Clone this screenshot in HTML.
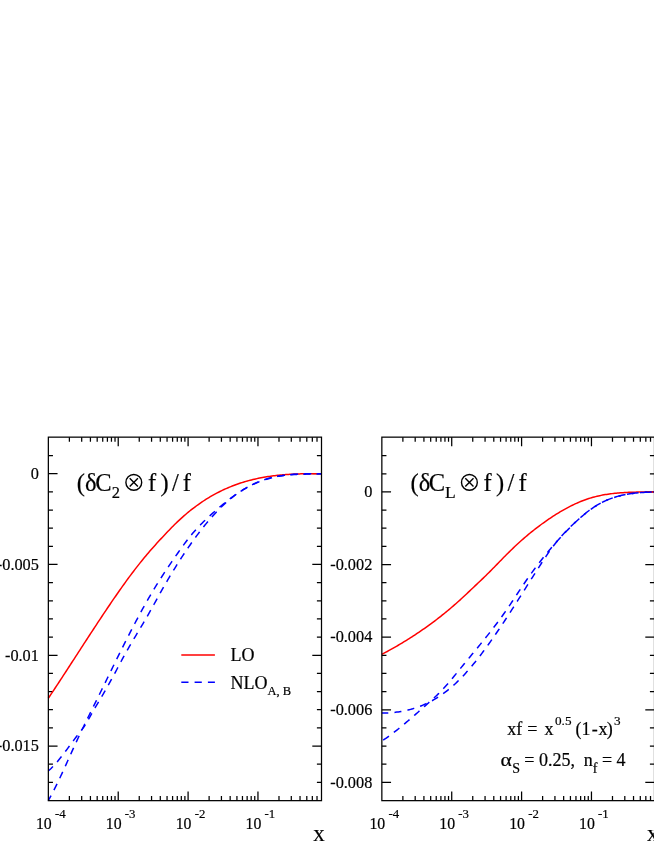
<!DOCTYPE html>
<html><head><meta charset="utf-8"><title>chart</title>
<style>
html,body{margin:0;padding:0;background:#fff;}
body{width:654px;height:846px;overflow:hidden;font-family:"Liberation Serif",serif;}
svg{display:block;font-family:"Liberation Serif",serif;}
text{fill:#000;}
</style></head><body>
<svg width="654" height="846" viewBox="0 0 654 846">
<rect width="654" height="846" fill="#fff"/>
<path d="M48.35 455.54h4.6M321.5 455.54h-4.6M48.35 473.7h9.2M321.5 473.7h-9.2M48.35 491.86h4.6M321.5 491.86h-4.6M48.35 510.01h4.6M321.5 510.01h-4.6M48.35 528.16h4.6M321.5 528.16h-4.6M48.35 546.32h4.6M321.5 546.32h-4.6M48.35 564.48h9.2M321.5 564.48h-9.2M48.35 582.63h4.6M321.5 582.63h-4.6M48.35 600.78h4.6M321.5 600.78h-4.6M48.35 618.94h4.6M321.5 618.94h-4.6M48.35 637.1h4.6M321.5 637.1h-4.6M48.35 655.25h9.2M321.5 655.25h-9.2M48.35 673.4h4.6M321.5 673.4h-4.6M48.35 691.56h4.6M321.5 691.56h-4.6M48.35 709.72h4.6M321.5 709.72h-4.6M48.35 727.87h4.6M321.5 727.87h-4.6M48.35 746.03h9.2M321.5 746.03h-9.2M48.35 764.18h4.6M321.5 764.18h-4.6M48.35 782.34h4.6M321.5 782.34h-4.6M69.38 800.65v-4.6M69.38 437.15v4.6M81.69 800.65v-4.6M81.69 437.15v4.6M90.42 800.65v-4.6M90.42 437.15v4.6M97.19 800.65v-4.6M97.19 437.15v4.6M102.72 800.65v-4.6M102.72 437.15v4.6M107.4 800.65v-4.6M107.4 437.15v4.6M111.45 800.65v-4.6M111.45 437.15v4.6M115.02 800.65v-4.6M115.02 437.15v4.6M118.22 800.65v-9.2M118.22 437.15v9.2M139.25 800.65v-4.6M139.25 437.15v4.6M151.56 800.65v-4.6M151.56 437.15v4.6M160.29 800.65v-4.6M160.29 437.15v4.6M167.06 800.65v-4.6M167.06 437.15v4.6M172.59 800.65v-4.6M172.59 437.15v4.6M177.27 800.65v-4.6M177.27 437.15v4.6M181.32 800.65v-4.6M181.32 437.15v4.6M184.89 800.65v-4.6M184.89 437.15v4.6M188.09 800.65v-9.2M188.09 437.15v9.2M209.12 800.65v-4.6M209.12 437.15v4.6M221.43 800.65v-4.6M221.43 437.15v4.6M230.16 800.65v-4.6M230.16 437.15v4.6M236.93 800.65v-4.6M236.93 437.15v4.6M242.46 800.65v-4.6M242.46 437.15v4.6M247.14 800.65v-4.6M247.14 437.15v4.6M251.19 800.65v-4.6M251.19 437.15v4.6M254.76 800.65v-4.6M254.76 437.15v4.6M257.96 800.65v-9.2M257.96 437.15v9.2M278.99 800.65v-4.6M278.99 437.15v4.6M291.3 800.65v-4.6M291.3 437.15v4.6M300.03 800.65v-4.6M300.03 437.15v4.6M306.8 800.65v-4.6M306.8 437.15v4.6M312.33 800.65v-4.6M312.33 437.15v4.6M317.01 800.65v-4.6M317.01 437.15v4.6" stroke="#000" stroke-width="1.25" fill="none"/>
<path d="M381.85 455.59h4.6M654.5 455.59h-4.6M381.85 473.75h4.6M654.5 473.75h-4.6M381.85 491.9h9.2M654.5 491.9h-9.2M381.85 510.05h4.6M654.5 510.05h-4.6M381.85 528.21h4.6M654.5 528.21h-4.6M381.85 546.37h4.6M654.5 546.37h-4.6M381.85 564.52h9.2M654.5 564.52h-9.2M381.85 582.67h4.6M654.5 582.67h-4.6M381.85 600.83h4.6M654.5 600.83h-4.6M381.85 618.99h4.6M654.5 618.99h-4.6M381.85 637.14h9.2M654.5 637.14h-9.2M381.85 655.29h4.6M654.5 655.29h-4.6M381.85 673.45h4.6M654.5 673.45h-4.6M381.85 691.61h4.6M654.5 691.61h-4.6M381.85 709.76h9.2M654.5 709.76h-9.2M381.85 727.91h4.6M654.5 727.91h-4.6M381.85 746.07h4.6M654.5 746.07h-4.6M381.85 764.23h4.6M654.5 764.23h-4.6M381.85 782.38h9.2M654.5 782.38h-9.2M402.88 800.65v-4.6M402.88 437.15v4.6M415.19 800.65v-4.6M415.19 437.15v4.6M423.92 800.65v-4.6M423.92 437.15v4.6M430.69 800.65v-4.6M430.69 437.15v4.6M436.22 800.65v-4.6M436.22 437.15v4.6M440.9 800.65v-4.6M440.9 437.15v4.6M444.95 800.65v-4.6M444.95 437.15v4.6M448.52 800.65v-4.6M448.52 437.15v4.6M451.72 800.65v-9.2M451.72 437.15v9.2M472.75 800.65v-4.6M472.75 437.15v4.6M485.06 800.65v-4.6M485.06 437.15v4.6M493.79 800.65v-4.6M493.79 437.15v4.6M500.56 800.65v-4.6M500.56 437.15v4.6M506.09 800.65v-4.6M506.09 437.15v4.6M510.77 800.65v-4.6M510.77 437.15v4.6M514.82 800.65v-4.6M514.82 437.15v4.6M518.39 800.65v-4.6M518.39 437.15v4.6M521.59 800.65v-9.2M521.59 437.15v9.2M542.62 800.65v-4.6M542.62 437.15v4.6M554.93 800.65v-4.6M554.93 437.15v4.6M563.66 800.65v-4.6M563.66 437.15v4.6M570.43 800.65v-4.6M570.43 437.15v4.6M575.96 800.65v-4.6M575.96 437.15v4.6M580.64 800.65v-4.6M580.64 437.15v4.6M584.69 800.65v-4.6M584.69 437.15v4.6M588.26 800.65v-4.6M588.26 437.15v4.6M591.46 800.65v-9.2M591.46 437.15v9.2M612.49 800.65v-4.6M612.49 437.15v4.6M624.8 800.65v-4.6M624.8 437.15v4.6M633.53 800.65v-4.6M633.53 437.15v4.6M640.3 800.65v-4.6M640.3 437.15v4.6M645.83 800.65v-4.6M645.83 437.15v4.6M650.51 800.65v-4.6M650.51 437.15v4.6" stroke="#000" stroke-width="1.25" fill="none"/>
<path d="M48.3 698.29 L49.67 696.24 L51.05 694.18 L52.42 692.12 L53.79 690.06 L55.16 687.98 L56.54 685.9 L57.91 683.82 L59.28 681.73 L60.66 679.64 L62.03 677.54 L63.4 675.44 L64.77 673.34 L66.15 671.23 L67.52 669.12 L68.89 667.01 L70.27 664.89 L71.64 662.78 L73.01 660.66 L74.38 658.54 L75.76 656.42 L77.13 654.3 L78.5 652.18 L79.88 650.07 L81.25 647.95 L82.62 645.83 L83.99 643.71 L85.37 641.6 L86.74 639.49 L88.11 637.38 L89.49 635.27 L90.86 633.17 L92.23 631.07 L93.6 628.97 L94.98 626.88 L96.35 624.79 L97.72 622.71 L99.1 620.63 L100.47 618.55 L101.84 616.49 L103.21 614.43 L104.59 612.37 L105.96 610.32 L107.33 608.28 L108.71 606.25 L110.08 604.22 L111.45 602.2 L112.82 600.19 L114.2 598.19 L115.57 596.2 L116.94 594.22 L118.32 592.25 L119.69 590.29 L121.06 588.34 L122.43 586.41 L123.81 584.48 L125.18 582.57 L126.55 580.68 L127.93 578.8 L129.3 576.93 L130.67 575.08 L132.04 573.25 L133.42 571.43 L134.79 569.63 L136.16 567.85 L137.54 566.09 L138.91 564.34 L140.28 562.62 L141.65 560.92 L143.03 559.23 L144.4 557.57 L145.77 555.93 L147.15 554.3 L148.52 552.69 L149.89 551.1 L151.26 549.52 L152.64 547.96 L154.01 546.41 L155.38 544.88 L156.76 543.36 L158.13 541.85 L159.5 540.35 L160.87 538.87 L162.25 537.39 L163.62 535.92 L164.99 534.47 L166.37 533.02 L167.74 531.58 L169.11 530.15 L170.48 528.73 L171.86 527.33 L173.23 525.94 L174.6 524.57 L175.98 523.23 L177.35 521.91 L178.72 520.61 L180.09 519.33 L181.47 518.08 L182.84 516.85 L184.21 515.64 L185.59 514.46 L186.96 513.3 L188.33 512.16 L189.71 511.04 L191.08 509.94 L192.45 508.86 L193.82 507.81 L195.2 506.78 L196.57 505.76 L197.94 504.77 L199.32 503.8 L200.69 502.85 L202.06 501.92 L203.43 501 L204.81 500.11 L206.18 499.24 L207.55 498.38 L208.93 497.55 L210.3 496.73 L211.67 495.93 L213.04 495.15 L214.42 494.39 L215.79 493.65 L217.16 492.92 L218.54 492.21 L219.91 491.52 L221.28 490.85 L222.65 490.19 L224.03 489.55 L225.4 488.92 L226.77 488.32 L228.15 487.72 L229.52 487.15 L230.89 486.59 L232.26 486.04 L233.64 485.51 L235.01 485 L236.38 484.49 L237.76 484.01 L239.13 483.54 L240.5 483.08 L241.87 482.64 L243.25 482.21 L244.62 481.79 L245.99 481.39 L247.37 481 L248.74 480.62 L250.11 480.26 L251.48 479.91 L252.86 479.57 L254.23 479.24 L255.6 478.93 L256.98 478.62 L258.35 478.33 L259.72 478.05 L261.09 477.78 L262.47 477.52 L263.84 477.27 L265.21 477.04 L266.59 476.81 L267.96 476.59 L269.33 476.39 L270.7 476.19 L272.08 476 L273.45 475.82 L274.82 475.65 L276.2 475.49 L277.57 475.34 L278.94 475.19 L280.31 475.06 L281.69 474.93 L283.06 474.81 L284.43 474.69 L285.81 474.59 L287.18 474.49 L288.55 474.4 L289.92 474.31 L291.3 474.24 L292.67 474.16 L294.04 474.1 L295.42 474.04 L296.79 473.99 L298.16 473.94 L299.53 473.89 L300.91 473.86 L302.28 473.82 L303.65 473.79 L305.03 473.77 L306.4 473.75 L307.77 473.75 L309.14 473.75 L310.52 473.75 L311.89 473.75 L313.26 473.75 L314.64 473.75 L316.01 473.75 L317.38 473.75 L318.75 473.75 L320.13 473.75 L321.5 473.75" fill="none" stroke="#ff0000" stroke-width="1.5"/>
<path d="M48.3 771.05 L49.67 769.79 L51.05 768.47 L52.42 767.08 L53.79 765.62 L55.16 764.1 L56.54 762.54 L57.91 760.92 L59.28 759.25 L60.66 757.55 L62.03 755.81 L63.4 754.04 L64.77 752.25 L66.15 750.43 L67.52 748.59 L68.89 746.75 L70.27 744.89 L71.64 743.04 L73.01 741.18 L74.38 739.33 L75.76 737.5 L77.13 735.68 L78.5 733.87 L79.88 732.1 L81.25 730.35 L82.62 728.6 L83.99 726.76 L85.37 724.71 L86.74 722.45 L88.11 720.06 L89.49 717.58 L90.86 715.11 L92.23 712.68 L93.6 710.3 L94.98 707.96 L96.35 705.65 L97.72 703.35 L99.1 701.06 L100.47 698.76 L101.84 696.45 L103.21 694.11 L104.59 691.74 L105.96 689.34 L107.33 686.91 L108.71 684.45 L110.08 681.97 L111.45 679.46 L112.82 676.93 L114.2 674.38 L115.57 671.81 L116.94 669.23 L118.32 666.64 L119.69 664.06 L121.06 661.49 L122.43 658.94 L123.81 656.41 L125.18 653.93 L126.55 651.48 L127.93 649.06 L129.3 646.68 L130.67 644.31 L132.04 641.97 L133.42 639.65 L134.79 637.33 L136.16 635.03 L137.54 632.73 L138.91 630.44 L140.28 628.14 L141.65 625.83 L143.03 623.51 L144.4 621.18 L145.77 618.84 L147.15 616.46 L148.52 614.07 L149.89 611.64 L151.26 609.2 L152.64 606.73 L154.01 604.25 L155.38 601.77 L156.76 599.29 L158.13 596.81 L159.5 594.33 L160.87 591.88 L162.25 589.44 L163.62 587.03 L164.99 584.64 L166.37 582.27 L167.74 579.92 L169.11 577.59 L170.48 575.29 L171.86 573.01 L173.23 570.75 L174.6 568.52 L175.98 566.3 L177.35 564.11 L178.72 561.95 L180.09 559.8 L181.47 557.68 L182.84 555.59 L184.21 553.51 L185.59 551.46 L186.96 549.44 L188.33 547.43 L189.71 545.46 L191.08 543.5 L192.45 541.57 L193.82 539.66 L195.2 537.78 L196.57 535.92 L197.94 534.09 L199.32 532.28 L200.69 530.5 L202.06 528.74 L203.43 527.01 L204.81 525.31 L206.18 523.63 L207.55 521.98 L208.93 520.35 L210.3 518.76 L211.67 517.19 L213.04 515.65 L214.42 514.14 L215.79 512.66 L217.16 511.21 L218.54 509.79 L219.91 508.4 L221.28 507.04 L222.65 505.71 L224.03 504.42 L225.4 503.15 L226.77 501.92 L228.15 500.72 L229.52 499.55 L230.89 498.42 L232.26 497.32 L233.64 496.25 L235.01 495.21 L236.38 494.21 L237.76 493.24 L239.13 492.3 L240.5 491.39 L241.87 490.51 L243.25 489.65 L244.62 488.83 L245.99 488.04 L247.37 487.27 L248.74 486.53 L250.11 485.82 L251.48 485.14 L252.86 484.48 L254.23 483.84 L255.6 483.23 L256.98 482.65 L258.35 482.09 L259.72 481.55 L261.09 481.04 L262.47 480.55 L263.84 480.08 L265.21 479.63 L266.59 479.21 L267.96 478.8 L269.33 478.41 L270.7 478.05 L272.08 477.7 L273.45 477.37 L274.82 477.06 L276.2 476.77 L277.57 476.49 L278.94 476.23 L280.31 475.99 L281.69 475.76 L283.06 475.55 L284.43 475.35 L285.81 475.17 L287.18 475 L288.55 474.84 L289.92 474.7 L291.3 474.57 L292.67 474.45 L294.04 474.34 L295.42 474.24 L296.79 474.15 L298.16 474.07 L299.53 474 L300.91 473.94 L302.28 473.89 L303.65 473.85 L305.03 473.81 L306.4 473.78 L307.77 473.76 L309.14 473.75 L310.52 473.75 L311.89 473.75 L313.26 473.75 L314.64 473.75 L316.01 473.75 L317.38 473.75 L318.75 473.75 L320.13 473.75 L321.5 473.75" fill="none" stroke="#0000ff" stroke-width="1.5" stroke-dasharray="7.0 6.2" stroke-dashoffset="0.5"/>
<path d="M48.3 800.55 L49.67 798.12 L51.05 795.6 L52.42 793.01 L53.79 790.35 L55.16 787.64 L56.54 784.86 L57.91 782.04 L59.28 779.17 L60.66 776.26 L62.03 773.32 L63.4 770.34 L64.77 767.34 L66.15 764.33 L67.52 761.3 L68.89 758.26 L70.27 755.22 L71.64 752.18 L73.01 749.15 L74.38 746.14 L75.76 743.14 L77.13 740.17 L78.5 737.22 L79.88 734.31 L81.25 731.41 L82.62 728.55 L83.99 725.7 L85.37 722.87 L86.74 720.05 L88.11 717.25 L89.49 714.46 L90.86 711.68 L92.23 708.91 L93.6 706.14 L94.98 703.37 L96.35 700.6 L97.72 697.83 L99.1 695.05 L100.47 692.27 L101.84 689.48 L103.21 686.68 L104.59 683.88 L105.96 681.07 L107.33 678.27 L108.71 675.46 L110.08 672.65 L111.45 669.85 L112.82 667.04 L114.2 664.25 L115.57 661.45 L116.94 658.66 L118.32 655.88 L119.69 653.11 L121.06 650.35 L122.43 647.6 L123.81 644.86 L125.18 642.14 L126.55 639.43 L127.93 636.73 L129.3 634.05 L130.67 631.38 L132.04 628.73 L133.42 626.1 L134.79 623.49 L136.16 620.9 L137.54 618.32 L138.91 615.76 L140.28 613.23 L141.65 610.72 L143.03 608.22 L144.4 605.76 L145.77 603.31 L147.15 600.89 L148.52 598.49 L149.89 596.12 L151.26 593.77 L152.64 591.45 L154.01 589.16 L155.38 586.9 L156.76 584.66 L158.13 582.45 L159.5 580.27 L160.87 578.12 L162.25 575.98 L163.62 573.87 L164.99 571.78 L166.37 569.71 L167.74 567.66 L169.11 565.63 L170.48 563.61 L171.86 561.6 L173.23 559.61 L174.6 557.63 L175.98 555.66 L177.35 553.7 L178.72 551.75 L180.09 549.81 L181.47 547.89 L182.84 545.98 L184.21 544.11 L185.59 542.26 L186.96 540.44 L188.33 538.65 L189.71 536.91 L191.08 535.21 L192.45 533.55 L193.82 531.95 L195.2 530.39 L196.57 528.87 L197.94 527.39 L199.32 525.95 L200.69 524.55 L202.06 523.17 L203.43 521.83 L204.81 520.51 L206.18 519.2 L207.55 517.92 L208.93 516.66 L210.3 515.4 L211.67 514.16 L213.04 512.92 L214.42 511.69 L215.79 510.48 L217.16 509.27 L218.54 508.08 L219.91 506.9 L221.28 505.74 L222.65 504.59 L224.03 503.46 L225.4 502.34 L226.77 501.25 L228.15 500.17 L229.52 499.11 L230.89 498.07 L232.26 497.05 L233.64 496.06 L235.01 495.08 L236.38 494.13 L237.76 493.2 L239.13 492.29 L240.5 491.4 L241.87 490.54 L243.25 489.69 L244.62 488.88 L245.99 488.08 L247.37 487.3 L248.74 486.55 L250.11 485.83 L251.48 485.12 L252.86 484.44 L254.23 483.78 L255.6 483.15 L256.98 482.54 L258.35 481.96 L259.72 481.4 L261.09 480.86 L262.47 480.35 L263.84 479.86 L265.21 479.4 L266.59 478.97 L267.96 478.55 L269.33 478.17 L270.7 477.8 L272.08 477.47 L273.45 477.15 L274.82 476.85 L276.2 476.58 L277.57 476.32 L278.94 476.09 L280.31 475.87 L281.69 475.67 L283.06 475.49 L284.43 475.32 L285.81 475.17 L287.18 475.03 L288.55 474.9 L289.92 474.79 L291.3 474.69 L292.67 474.6 L294.04 474.52 L295.42 474.45 L296.79 474.38 L298.16 474.33 L299.53 474.28 L300.91 474.24 L302.28 474.2 L303.65 474.16 L305.03 474.13 L306.4 474.11 L307.77 474.08 L309.14 474.06 L310.52 474.03 L311.89 474.01 L313.26 473.98 L314.64 473.95 L316.01 473.92 L317.38 473.89 L318.75 473.84 L320.13 473.8 L321.5 473.75" fill="none" stroke="#0000ff" stroke-width="1.5" stroke-dasharray="7.0 6.2" stroke-dashoffset="1.3"/>
<path d="M381.8 654.41 L383.17 653.69 L384.54 652.95 L385.91 652.21 L387.28 651.47 L388.65 650.71 L390.03 649.96 L391.4 649.19 L392.77 648.42 L394.14 647.64 L395.51 646.85 L396.88 646.06 L398.25 645.25 L399.62 644.45 L400.99 643.63 L402.36 642.81 L403.73 641.98 L405.1 641.14 L406.48 640.29 L407.85 639.44 L409.22 638.57 L410.59 637.7 L411.96 636.83 L413.33 635.94 L414.7 635.04 L416.07 634.14 L417.44 633.23 L418.81 632.3 L420.18 631.37 L421.55 630.44 L422.93 629.49 L424.3 628.53 L425.67 627.56 L427.04 626.59 L428.41 625.6 L429.78 624.61 L431.15 623.6 L432.52 622.59 L433.89 621.56 L435.26 620.53 L436.63 619.48 L438.01 618.43 L439.38 617.36 L440.75 616.29 L442.12 615.2 L443.49 614.11 L444.86 613 L446.23 611.88 L447.6 610.75 L448.97 609.61 L450.34 608.46 L451.71 607.3 L453.08 606.13 L454.46 604.94 L455.83 603.74 L457.2 602.53 L458.57 601.31 L459.94 600.07 L461.31 598.82 L462.68 597.56 L464.05 596.28 L465.42 595 L466.79 593.71 L468.16 592.41 L469.53 591.11 L470.91 589.81 L472.28 588.5 L473.65 587.2 L475.02 585.9 L476.39 584.6 L477.76 583.3 L479.13 582.01 L480.5 580.71 L481.87 579.41 L483.24 578.1 L484.61 576.77 L485.98 575.44 L487.36 574.08 L488.73 572.72 L490.1 571.35 L491.47 569.96 L492.84 568.57 L494.21 567.17 L495.58 565.77 L496.95 564.37 L498.32 562.96 L499.69 561.55 L501.06 560.15 L502.44 558.75 L503.81 557.35 L505.18 555.96 L506.55 554.58 L507.92 553.21 L509.29 551.85 L510.66 550.5 L512.03 549.17 L513.4 547.85 L514.77 546.55 L516.14 545.26 L517.51 544 L518.89 542.74 L520.26 541.51 L521.63 540.29 L523 539.08 L524.37 537.89 L525.74 536.71 L527.11 535.56 L528.48 534.41 L529.85 533.28 L531.22 532.17 L532.59 531.06 L533.96 529.98 L535.34 528.91 L536.71 527.85 L538.08 526.81 L539.45 525.78 L540.82 524.76 L542.19 523.76 L543.56 522.77 L544.93 521.79 L546.3 520.83 L547.67 519.88 L549.04 518.95 L550.42 518.03 L551.79 517.12 L553.16 516.22 L554.53 515.34 L555.9 514.47 L557.27 513.62 L558.64 512.78 L560.01 511.95 L561.38 511.14 L562.75 510.35 L564.12 509.57 L565.49 508.81 L566.87 508.06 L568.24 507.33 L569.61 506.62 L570.98 505.92 L572.35 505.24 L573.72 504.58 L575.09 503.94 L576.46 503.32 L577.83 502.71 L579.2 502.12 L580.57 501.56 L581.94 501.01 L583.32 500.48 L584.69 499.97 L586.06 499.48 L587.43 499.02 L588.8 498.57 L590.17 498.14 L591.54 497.73 L592.91 497.34 L594.28 496.97 L595.65 496.62 L597.02 496.28 L598.39 495.96 L599.77 495.66 L601.14 495.38 L602.51 495.11 L603.88 494.85 L605.25 494.61 L606.62 494.39 L607.99 494.17 L609.36 493.98 L610.73 493.79 L612.1 493.62 L613.47 493.46 L614.85 493.31 L616.22 493.17 L617.59 493.04 L618.96 492.92 L620.33 492.81 L621.7 492.72 L623.07 492.63 L624.44 492.55 L625.81 492.47 L627.18 492.41 L628.55 492.35 L629.92 492.29 L631.3 492.25 L632.67 492.21 L634.04 492.17 L635.41 492.14 L636.78 492.12 L638.15 492.09 L639.52 492.07 L640.89 492.06 L642.26 492.04 L643.63 492.03 L645 492.02 L646.37 492.01 L647.75 492.01 L649.12 492 L650.49 491.99 L651.86 491.98 L653.23 491.97 L654.6 491.96" fill="none" stroke="#ff0000" stroke-width="1.5"/>
<path d="M381.8 713.12 L383.17 713.1 L384.54 713.07 L385.91 713.02 L387.28 712.96 L388.65 712.88 L390.03 712.79 L391.4 712.69 L392.77 712.57 L394.14 712.43 L395.51 712.28 L396.88 712.11 L398.25 711.92 L399.62 711.71 L400.99 711.49 L402.36 711.25 L403.73 710.99 L405.1 710.71 L406.48 710.41 L407.85 710.09 L409.22 709.75 L410.59 709.39 L411.96 709.01 L413.33 708.61 L414.7 708.18 L416.07 707.74 L417.44 707.27 L418.81 706.77 L420.18 706.26 L421.55 705.71 L422.93 705.15 L424.3 704.56 L425.67 703.94 L427.04 703.3 L428.41 702.64 L429.78 701.94 L431.15 701.22 L432.52 700.47 L433.89 699.7 L435.26 698.9 L436.63 698.06 L438.01 697.2 L439.38 696.31 L440.75 695.39 L442.12 694.44 L443.49 693.46 L444.86 692.45 L446.23 691.41 L447.6 690.34 L448.97 689.23 L450.34 688.09 L451.71 686.92 L453.08 685.72 L454.46 684.48 L455.83 683.21 L457.2 681.9 L458.57 680.56 L459.94 679.19 L461.31 677.79 L462.68 676.36 L464.05 674.89 L465.42 673.4 L466.79 671.87 L468.16 670.32 L469.53 668.74 L470.91 667.14 L472.28 665.5 L473.65 663.84 L475.02 662.16 L476.39 660.45 L477.76 658.71 L479.13 656.96 L480.5 655.18 L481.87 653.37 L483.24 651.55 L484.61 649.71 L485.98 647.84 L487.36 645.96 L488.73 644.05 L490.1 642.13 L491.47 640.19 L492.84 638.24 L494.21 636.27 L495.58 634.28 L496.95 632.28 L498.32 630.26 L499.69 628.23 L501.06 626.18 L502.44 624.13 L503.81 622.06 L505.18 619.98 L506.55 617.89 L507.92 615.79 L509.29 613.68 L510.66 611.56 L512.03 609.43 L513.4 607.3 L514.77 605.16 L516.14 603.01 L517.51 600.86 L518.89 598.71 L520.26 596.55 L521.63 594.38 L523 592.22 L524.37 590.05 L525.74 587.88 L527.11 585.71 L528.48 583.54 L529.85 581.37 L531.22 579.2 L532.59 577.04 L533.96 574.89 L535.34 572.74 L536.71 570.6 L538.08 568.47 L539.45 566.35 L540.82 564.24 L542.19 562.14 L543.56 560.06 L544.93 557.99 L546.3 555.94 L547.67 553.91 L549.04 551.92 L550.42 549.97 L551.79 548.07 L553.16 546.23 L554.53 544.45 L555.9 542.73 L557.27 541.05 L558.64 539.41 L560.01 537.82 L561.38 536.26 L562.75 534.74 L564.12 533.25 L565.49 531.8 L566.87 530.37 L568.24 528.98 L569.61 527.62 L570.98 526.28 L572.35 524.97 L573.72 523.68 L575.09 522.41 L576.46 521.17 L577.83 519.94 L579.2 518.73 L580.57 517.54 L581.94 516.37 L583.32 515.21 L584.69 514.08 L586.06 512.97 L587.43 511.88 L588.8 510.83 L590.17 509.8 L591.54 508.81 L592.91 507.86 L594.28 506.94 L595.65 506.06 L597.02 505.22 L598.39 504.41 L599.77 503.64 L601.14 502.9 L602.51 502.19 L603.88 501.52 L605.25 500.88 L606.62 500.26 L607.99 499.68 L609.36 499.13 L610.73 498.6 L612.1 498.1 L613.47 497.63 L614.85 497.19 L616.22 496.77 L617.59 496.37 L618.96 496 L620.33 495.65 L621.7 495.32 L623.07 495.01 L624.44 494.73 L625.81 494.46 L627.18 494.21 L628.55 493.98 L629.92 493.77 L631.3 493.57 L632.67 493.39 L634.04 493.22 L635.41 493.07 L636.78 492.93 L638.15 492.8 L639.52 492.68 L640.89 492.58 L642.26 492.48 L643.63 492.4 L645 492.32 L646.37 492.25 L647.75 492.19 L649.12 492.13 L650.49 492.08 L651.86 492.03 L653.23 491.99 L654.6 491.96" fill="none" stroke="#0000ff" stroke-width="1.5" stroke-dasharray="7.0 6.2" stroke-dashoffset="0.5"/>
<path d="M381.8 741.1 L383.17 740.18 L384.54 739.24 L385.91 738.28 L387.28 737.31 L388.65 736.32 L390.03 735.31 L391.4 734.29 L392.77 733.25 L394.14 732.2 L395.51 731.14 L396.88 730.06 L398.25 728.97 L399.62 727.86 L400.99 726.75 L402.36 725.62 L403.73 724.49 L405.1 723.34 L406.48 722.19 L407.85 721.03 L409.22 719.86 L410.59 718.68 L411.96 717.49 L413.33 716.3 L414.7 715.1 L416.07 713.9 L417.44 712.69 L418.81 711.48 L420.18 710.27 L421.55 709.05 L422.93 707.83 L424.3 706.61 L425.67 705.39 L427.04 704.17 L428.41 702.95 L429.78 701.72 L431.15 700.49 L432.52 699.25 L433.89 698 L435.26 696.73 L436.63 695.45 L438.01 694.13 L439.38 692.8 L440.75 691.43 L442.12 690.02 L443.49 688.58 L444.86 687.1 L446.23 685.57 L447.6 684.01 L448.97 682.41 L450.34 680.78 L451.71 679.14 L453.08 677.48 L454.46 675.81 L455.83 674.13 L457.2 672.45 L458.57 670.77 L459.94 669.08 L461.31 667.4 L462.68 665.72 L464.05 664.05 L465.42 662.39 L466.79 660.72 L468.16 659.06 L469.53 657.41 L470.91 655.75 L472.28 654.09 L473.65 652.43 L475.02 650.78 L476.39 649.11 L477.76 647.45 L479.13 645.78 L480.5 644.1 L481.87 642.42 L483.24 640.73 L484.61 639.03 L485.98 637.32 L487.36 635.6 L488.73 633.87 L490.1 632.12 L491.47 630.37 L492.84 628.59 L494.21 626.81 L495.58 625 L496.95 623.18 L498.32 621.34 L499.69 619.48 L501.06 617.61 L502.44 615.71 L503.81 613.78 L505.18 611.84 L506.55 609.87 L507.92 607.87 L509.29 605.86 L510.66 603.83 L512.03 601.78 L513.4 599.72 L514.77 597.65 L516.14 595.58 L517.51 593.51 L518.89 591.44 L520.26 589.38 L521.63 587.32 L523 585.28 L524.37 583.26 L525.74 581.25 L527.11 579.27 L528.48 577.31 L529.85 575.37 L531.22 573.46 L532.59 571.57 L533.96 569.7 L535.34 567.86 L536.71 566.03 L538.08 564.23 L539.45 562.45 L540.82 560.7 L542.19 558.96 L543.56 557.24 L544.93 555.54 L546.3 553.86 L547.67 552.21 L549.04 550.56 L550.42 548.94 L551.79 547.34 L553.16 545.75 L554.53 544.18 L555.9 542.63 L557.27 541.1 L558.64 539.58 L560.01 538.08 L561.38 536.59 L562.75 535.12 L564.12 533.66 L565.49 532.22 L566.87 530.79 L568.24 529.37 L569.61 527.98 L570.98 526.59 L572.35 525.23 L573.72 523.89 L575.09 522.56 L576.46 521.26 L577.83 519.98 L579.2 518.73 L580.57 517.5 L581.94 516.3 L583.32 515.12 L584.69 513.98 L586.06 512.86 L587.43 511.78 L588.8 510.73 L590.17 509.71 L591.54 508.73 L592.91 507.79 L594.28 506.88 L595.65 506.01 L597.02 505.17 L598.39 504.37 L599.77 503.61 L601.14 502.87 L602.51 502.17 L603.88 501.5 L605.25 500.86 L606.62 500.26 L607.99 499.68 L609.36 499.13 L610.73 498.6 L612.1 498.11 L613.47 497.64 L614.85 497.2 L616.22 496.78 L617.59 496.38 L618.96 496.01 L620.33 495.66 L621.7 495.33 L623.07 495.03 L624.44 494.74 L625.81 494.47 L627.18 494.22 L628.55 493.99 L629.92 493.78 L631.3 493.58 L632.67 493.4 L634.04 493.23 L635.41 493.08 L636.78 492.93 L638.15 492.81 L639.52 492.69 L640.89 492.58 L642.26 492.49 L643.63 492.4 L645 492.32 L646.37 492.25 L647.75 492.19 L649.12 492.13 L650.49 492.08 L651.86 492.03 L653.23 491.99 L654.6 491.96" fill="none" stroke="#0000ff" stroke-width="1.5" stroke-dasharray="7.0 6.2" stroke-dashoffset="-1.7"/>
<path d="M181.3 654.9H214.9" stroke="#ff0000" stroke-width="1.5"/>
<path d="M181.3 682.3H214.9" stroke="#0000ff" stroke-width="1.5" stroke-dasharray="7.2 6.1"/>
<g stroke="#000" stroke-width="1.4" fill="none"><circle cx="133.8" cy="482.4" r="7.9"/><path d="M129.70000000000002 478.29999999999995L137.9 486.5M137.9 478.29999999999995L129.70000000000002 486.5"/></g>
<g stroke="#000" stroke-width="1.4" fill="none"><circle cx="469.4" cy="482.4" r="7.9"/><path d="M465.29999999999995 478.29999999999995L473.5 486.5M473.5 478.29999999999995L465.29999999999995 486.5"/></g>
<rect x="48.35" y="437.15" width="273.15" height="363.5" fill="none" stroke="#000" stroke-width="1.25"/>
<rect x="381.85" y="437.15" width="272.65" height="363.5" fill="none" stroke="#000" stroke-width="1.25"/>
<g style="will-change:transform" stroke="#000" stroke-width="0.2">
<text x="38.9" y="479" font-size="16.3" text-anchor="end">0</text>
<text x="38.9" y="569.77" font-size="16.3" text-anchor="end">-0.005</text>
<text x="38.9" y="660.55" font-size="16.3" text-anchor="end">-0.01</text>
<text x="38.9" y="751.33" font-size="16.3" text-anchor="end">-0.015</text>
<text x="372.3" y="497.2" font-size="16.3" text-anchor="end">0</text>
<text x="372.3" y="569.82" font-size="16.3" text-anchor="end">-0.002</text>
<text x="372.3" y="642.44" font-size="16.3" text-anchor="end">-0.004</text>
<text x="372.3" y="715.06" font-size="16.3" text-anchor="end">-0.006</text>
<text x="372.3" y="787.68" font-size="16.3" text-anchor="end">-0.008</text>
<text x="35.95" y="828.8" font-size="15.8" text-anchor="start">10</text>
<text x="54.95" y="818.1" font-size="12.8" text-anchor="start">-4</text>
<text x="105.82" y="828.8" font-size="15.8" text-anchor="start">10</text>
<text x="124.82" y="818.1" font-size="12.8" text-anchor="start">-3</text>
<text x="175.69" y="828.8" font-size="15.8" text-anchor="start">10</text>
<text x="194.69" y="818.1" font-size="12.8" text-anchor="start">-2</text>
<text x="245.56" y="828.8" font-size="15.8" text-anchor="start">10</text>
<text x="264.56" y="818.1" font-size="12.8" text-anchor="start">-1</text>
<text x="369.45" y="828.8" font-size="15.8" text-anchor="start">10</text>
<text x="388.45" y="818.1" font-size="12.8" text-anchor="start">-4</text>
<text x="439.32" y="828.8" font-size="15.8" text-anchor="start">10</text>
<text x="458.32" y="818.1" font-size="12.8" text-anchor="start">-3</text>
<text x="509.19" y="828.8" font-size="15.8" text-anchor="start">10</text>
<text x="528.19" y="818.1" font-size="12.8" text-anchor="start">-2</text>
<text x="579.06" y="828.8" font-size="15.8" text-anchor="start">10</text>
<text x="598.06" y="818.1" font-size="12.8" text-anchor="start">-1</text>
<text x="313.3" y="840.7" font-size="23" text-anchor="start">x</text>
<text x="646.9" y="840.7" font-size="23" text-anchor="start">x</text>
<text y="490.9" font-size="24.5"><tspan x="76.8">(</tspan><tspan x="85.1">δ</tspan><tspan x="95.2">C</tspan></text>
<text x="111.8" y="498.3" font-size="16.5">2</text>
<text y="490.9" font-size="24.5"><tspan x="148">f</tspan><tspan x="160.5">)</tspan><tspan x="172">/</tspan><tspan x="182.8">f</tspan></text>
<text y="490.9" font-size="24.5"><tspan x="410.4">(</tspan><tspan x="418.7">δ</tspan><tspan x="428.8">C</tspan></text>
<text x="445" y="498.3" font-size="17.5">L</text>
<text y="490.9" font-size="24.5"><tspan x="483.6">f</tspan><tspan x="496.1">)</tspan><tspan x="507.6">/</tspan><tspan x="518.4">f</tspan></text>
<text x="230.4" y="661.2" font-size="18" text-anchor="start">LO</text>
<text x="230.4" y="688.7" font-size="18">NLO<tspan font-size="12.5" dy="5.9">A, B</tspan></text>
<text y="734.6" font-size="18"><tspan x="507.3">xf</tspan><tspan x="527.3">=</tspan><tspan x="544.4">x</tspan><tspan x="575.6">(1</tspan><tspan x="591.7">-</tspan><tspan x="598.5">x</tspan><tspan x="606.7">)</tspan></text>
<text y="724.6" font-size="13.2"><tspan x="555.0">0.5</tspan><tspan x="614.0">3</tspan></text>
<text transform="translate(500.6,766.4) scale(1.2,1)" font-size="18">α</text>
<text y="766.4" font-size="18" xml:space="preserve"><tspan x="524.3">= 0.25,</tspan><tspan x="583.7">n</tspan><tspan x="601.9">= 4</tspan></text>
<text y="772.9" font-size="14"><tspan x="512.2">S</tspan><tspan x="592.7">f</tspan></text>
</g>
</svg>
</body></html>
